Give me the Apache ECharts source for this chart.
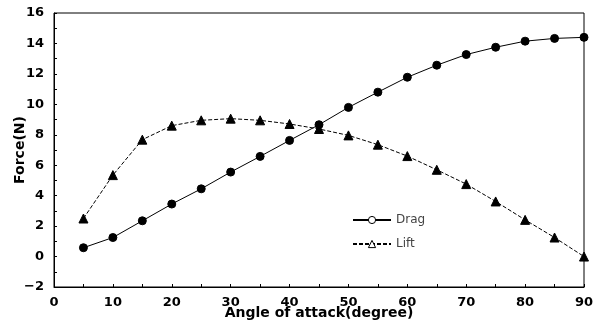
<!DOCTYPE html>
<html>
<head>
<meta charset="utf-8">
<script src="https://cdn.jsdelivr.net/npm/echarts@6/dist/echarts.min.js"></script>
<style>
  html, body { margin: 0; padding: 0; background: #fff; }
  #chart { width: 601px; height: 322px; }
</style>
</head>
<body>
<div id="chart"></div>
<script>
const angles = [5, 10, 15, 20, 25, 30, 35, 40, 45, 50, 55, 60, 65, 70, 75, 80, 85, 90]
const drag = [0.58, 1.25, 2.35, 3.45, 4.45, 5.55, 6.58, 7.63, 8.66, 9.8, 10.8, 11.78, 12.57, 13.27, 13.75, 14.15, 14.33, 14.4]
const lift = [2.5, 5.35, 7.68, 8.6, 8.95, 9.06, 8.95, 8.71, 8.38, 7.96, 7.35, 6.6, 5.7, 4.76, 3.62, 2.41, 1.25, 0.0]

const tickFont = { fontFamily: 'DejaVu Sans', fontWeight: 'bold', fontSize: 13, color: '#000' }

const chart = echarts.init(document.getElementById('chart'))
const option = {
  animation: false,
  grid: {
    left: 54, top: 13, right: 17, bottom: 35,
    outerBoundsMode: 'none',
    show: true, borderColor: '#000', borderWidth: 1
  },
  legend: {
    left: 347,
    top: 209,
    orient: 'vertical',
    itemGap: 12,
    itemWidth: 38,
    itemHeight: 9,
    textStyle: { fontFamily: 'DejaVu Sans', fontSize: 12, color: '#444' },
    data: [
      { name: 'Drag', itemStyle: { color: '#fff', borderColor: '#000', borderWidth: 1 } },
      { name: 'Lift', itemStyle: { color: '#fff', borderColor: '#000', borderWidth: 1 }, lineStyle: { type: [4, 2] } }
    ]
  },
  xAxis: {
    type: 'value',
    min: 0,
    max: 90,
    interval: 10,
    name: 'Angle of attack(degree)',
    nameLocation: 'middle',
    nameGap: 19,
    nameMoveOverlap: false,
    nameTextStyle: { fontFamily: 'DejaVu Sans', fontWeight: 'bold', fontSize: 14, color: '#000' },
    axisLine: { onZero: false, lineStyle: { color: '#000', width: 1 } },
    axisTick: { inside: true, length: 3, lineStyle: { color: '#000' } },
    minorTick: { show: true, splitNumber: 2, length: 3, lineStyle: { color: '#000' } },
    axisLabel: Object.assign({ margin: 9 }, tickFont),
    splitLine: { show: false }
  },
  yAxis: {
    type: 'value',
    min: -2,
    max: 16,
    interval: 2,
    name: 'Force(N)',
    nameLocation: 'middle',
    nameGap: 27,
    nameMoveOverlap: false,
    nameTextStyle: { fontFamily: 'DejaVu Sans', fontWeight: 'bold', fontSize: 14, color: '#000' },
    axisLine: { onZero: false, lineStyle: { color: '#000', width: 1 } },
    axisTick: { inside: true, length: 3, lineStyle: { color: '#000' } },
    minorTick: { show: true, splitNumber: 2, length: 3, lineStyle: { color: '#000' } },
    axisLabel: Object.assign({ margin: 10, formatter: v => String(v).replace('-', '\u2212') }, tickFont),
    splitLine: { show: false }
  },
  series: [
    {
      name: 'Drag',
      type: 'line',
      data: angles.map((a, i) => [a, drag[i]]),
      symbol: 'circle',
      symbolSize: 8,
      lineStyle: { color: '#000', width: 1 },
      itemStyle: { color: '#000', borderColor: '#000', borderWidth: 1 },
      z: 3
    },
    {
      name: 'Lift',
      type: 'line',
      data: angles.map((a, i) => [a, lift[i]]),
      symbol: 'triangle',
      symbolSize: 9,
      lineStyle: { color: '#000', width: 1, type: [4, 2] },
      itemStyle: { color: '#000', borderColor: '#000', borderWidth: 1 },
      z: 2
    }
  ]
}
chart.setOption(option)
</script>
</body>
</html>
